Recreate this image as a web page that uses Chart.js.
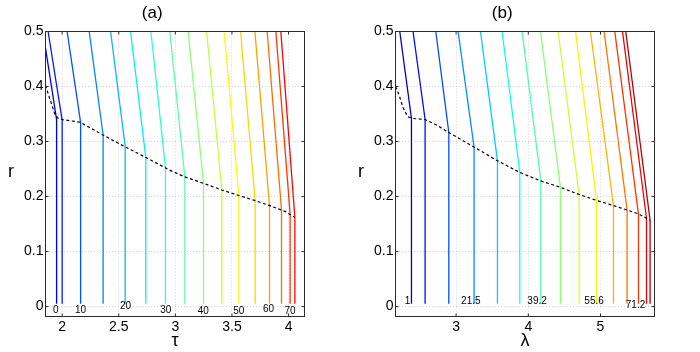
<!DOCTYPE html>
<html>
<head>
  <title>Contour panels (a) and (b)</title>
  <script src="https://cdn.jsdelivr.net/npm/chart.js"></script>
  <style>
    body { margin: 0; background: #fff; }
    .panel { position: absolute; top: 0; width: 350px; height: 352px; }
  </style>
</head>
<body>
  <div class="panel" style="left:0"><canvas id="chartA" width="350" height="352"></canvas></div>
  <div class="panel" style="left:350px"><canvas id="chartB" width="350" height="352"></canvas></div>

  <script>
    // tick labels
    const rTicks = [0, 0.1, 0.2, 0.3, 0.4, 0.5];
    const tauTicks = [2, 2.5, 3, 3.5, 4];
    const lamTicks = [3, 4, 5];

    // panel (a): 16 contour levels, each line = vertical part below the dashed curve, slanted part above
    const tauBottom = [1.951, 2.000, 2.163, 2.362, 2.557, 2.739, 2.913, 3.084, 3.249, 3.411, 3.561, 3.705, 3.832, 3.938, 4.014, 4.056];
    const tauKinkR = [0.340, 0.339, 0.335, 0.312, 0.291, 0.271, 0.252, 0.236, 0.224, 0.212, 0.202, 0.193, 0.183, 0.175, 0.168, 0.162];
    const tauTop = [1.853, 1.876, 2.044, 2.239, 2.428, 2.604, 2.784, 2.951, 3.113, 3.276, 3.431, 3.576, 3.703, 3.811, 3.888, 3.932];
    const tauTopR = [0.47, 0.5, 0.5, 0.5, 0.5, 0.5, 0.5, 0.5, 0.5, 0.5, 0.5, 0.5, 0.5, 0.5, 0.5, 0.5];
    const dashTau = [1.853, 1.935, 1.965, 2.0, 2.16, 2.36, 2.55, 2.74, 2.95, 3.08, 3.25, 3.41, 3.56, 3.70, 3.84, 3.97, 4.056];
    const dashTauR = [0.402, 0.350, 0.342, 0.340, 0.335, 0.312, 0.291, 0.271, 0.248, 0.236, 0.224, 0.212, 0.202, 0.193, 0.183, 0.173, 0.162];
    const labelsA = ['0', '10', '20', '30', '40', '50', '60', '70'];
    const labelTau = [1.944, 2.163, 2.56, 2.916, 3.246, 3.561, 3.823, 4.014];
    const labelTauR = [-0.007, -0.007, 0.0, -0.006, -0.008, -0.008, -0.004, -0.008];

    // panel (b): 15 contour levels
    const lamBottom = [2.382, 2.571, 2.899, 3.249, 3.573, 3.882, 4.173, 4.446, 4.704, 4.945, 5.180, 5.368, 5.526, 5.637, 5.687];
    const lamKinkR = [0.342, 0.340, 0.317, 0.290, 0.265, 0.244, 0.229, 0.216, 0.204, 0.193, 0.183, 0.176, 0.168, 0.161, 0.157];
    const lamTop = [2.220, 2.404, 2.719, 3.028, 3.338, 3.637, 3.914, 4.169, 4.413, 4.654, 4.861, 5.050, 5.198, 5.305, 5.350];
    const dashLam = [2.161, 2.21, 2.265, 2.33, 2.40, 2.57, 2.73, 2.89, 3.235, 3.56, 3.88, 4.16, 4.44, 4.70, 4.945, 5.17, 5.36, 5.535, 5.685];
    const dashLamR = [0.400, 0.385, 0.362, 0.345, 0.342, 0.340, 0.330, 0.317, 0.291, 0.266, 0.244, 0.229, 0.217, 0.204, 0.193, 0.184, 0.176, 0.168, 0.157];
    const labelsB = ['1', '21.5', '39.2', '55.6', '71.2'];
    const labelLam = [2.327, 3.204, 4.122, 4.911, 5.485];
    const labelLamR = [0.009, 0.009, 0.009, 0.010, 0.003];

    const FONT = '"Liberation Sans", Arial, sans-serif';

    // matlab jet colormap
    function jet(t) {
      const c = v => Math.round(255 * Math.max(0, Math.min(1, v)));
      return 'rgb(' + c(1.5 - Math.abs(4 * t - 3)) + ',' + c(1.5 - Math.abs(4 * t - 2)) + ',' + c(1.5 - Math.abs(4 * t - 1)) + ')';
    }

    function contourSets(bottom, kink, top, topR, t0, dt) {
      return bottom.map((b, i) => ({
        data: [{ x: top[i], y: topR[i] }, { x: b, y: kink[i] }, { x: b, y: 0.005 }],
        borderColor: jet(t0 + i * dt),
        borderWidth: 1.3,
        pointRadius: 0,
        showLine: true,
        tension: 0
      }));
    }

    function dashSet(xs, ys) {
      return {
        data: xs.map((v, i) => ({ x: v, y: ys[i] })),
        borderColor: '#000',
        borderWidth: 1.2,
        borderDash: [3, 2.5],
        pointRadius: 0,
        showLine: true
      };
    }

    // box, inward ticks, contour labels and the upright "r"
    const framePlugin = {
      id: 'frame',
      afterDatasetsDraw(chart, args, opts) {
        const { ctx, chartArea: a, scales: { x, y } } = chart;
        ctx.save();
        ctx.strokeStyle = '#2b2b2b';
        ctx.lineWidth = 1;
        ctx.strokeRect(a.left, a.top, a.right - a.left, a.bottom - a.top);
        ctx.beginPath();
        x.ticks.forEach(t => {
          const px = x.getPixelForValue(t.value);
          ctx.moveTo(px, a.bottom); ctx.lineTo(px, a.bottom - 3);
          ctx.moveTo(px, a.top); ctx.lineTo(px, a.top + 3);
        });
        y.ticks.forEach(t => {
          const py = y.getPixelForValue(t.value);
          ctx.moveTo(a.left, py); ctx.lineTo(a.left + 3, py);
          ctx.moveTo(a.right, py); ctx.lineTo(a.right - 3, py);
        });
        ctx.stroke();

        ctx.fillStyle = '#000';
        ctx.textAlign = 'center';
        ctx.textBaseline = 'middle';
        ctx.font = '10px ' + FONT;
        opts.texts.forEach((s, i) => {
          ctx.fillText(s, x.getPixelForValue(opts.xs[i]), y.getPixelForValue(opts.ys[i]));
        });
        ctx.font = '18px ' + FONT;
        ctx.fillText('r', 11, (a.top + a.bottom) / 2 - 2);
        ctx.restore();
      }
    };

    function makeChart(id, title, xName, xMin, xMax, xTicks, datasets, lab) {
      return new Chart(document.getElementById(id), {
        type: 'scatter',
        data: { datasets: datasets },
        options: {
          responsive: false,
          animation: false,
          layout: { padding: { left: 0, right: 45.5, top: 0, bottom: 0 } },
          plugins: {
            legend: { display: false },
            tooltip: { enabled: false },
            title: {
              display: true, text: title, color: '#000',
              font: { family: FONT, size: 17, weight: 'normal' },
              padding: { top: 3.5, bottom: 7.6 }
            },
            frame: lab
          },
          scales: {
            x: {
              type: 'linear', min: xMin, max: xMax,
              afterBuildTicks: s => { s.ticks = xTicks.map(v => ({ value: v })); },
              afterFit: s => { s.height = 35.5; },
              ticks: { color: '#000', font: { family: FONT, size: 14 }, padding: 2, callback: v => String(v) },
              grid: { color: '#d4d4d4', drawTicks: false, lineWidth: 1 },
              border: { display: false, dash: [1, 2] },
              title: { display: true, text: xName, color: '#000', font: { family: FONT, size: 18 }, padding: 0 }
            },
            y: {
              type: 'linear', min: -0.018, max: 0.5,
              afterBuildTicks: s => { s.ticks = rTicks.map(v => ({ value: v })); },
              afterFit: s => { s.width = 45.5; },
              ticks: { color: '#000', font: { family: FONT, size: 14 }, padding: 2, callback: v => String(v) },
              grid: { color: '#d4d4d4', drawTicks: false, lineWidth: 1 },
              border: { display: false, dash: [1, 2] }
            }
          }
        },
        plugins: [framePlugin]
      });
    }

    makeChart('chartA', '(a)', 'τ', 1.853, 4.141, tauTicks,
      [dashSet(dashTau, dashTauR)].concat(contourSets(tauBottom, tauKinkR, tauTop, tauTopR, 0.1, 0.775 / 15)),
      { texts: labelsA, xs: labelTau, ys: labelTauR });

    makeChart('chartB', '(b)', 'λ', 2.161, 5.748, lamTicks,
      [dashSet(dashLam, dashLamR)].concat(contourSets(lamBottom, lamKinkR, lamTop, lamTop.map(() => 0.5), 0.075, 0.0625)),
      { texts: labelsB, xs: labelLam, ys: labelLamR });
  </script>
</body>
</html>
